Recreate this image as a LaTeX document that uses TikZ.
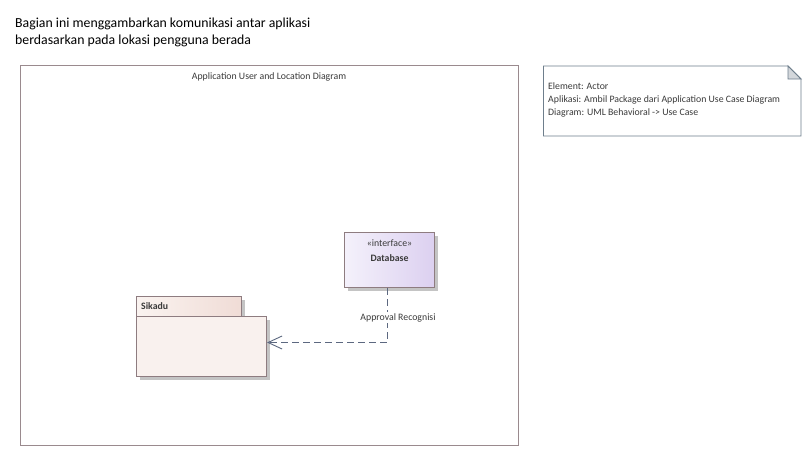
\documentclass[tikz,border=0pt]{standalone}
\usepackage{fontspec}
\setmainfont{Carlito}
\usetikzlibrary{arrows.meta,shadings}
\definecolor{frameborder}{HTML}{9A8A8E}
\definecolor{boxborder}{HTML}{8E7C80}
\definecolor{noteborder}{HTML}{6E7E8C}
\definecolor{connector}{HTML}{5C6880}
\definecolor{labeltext}{HTML}{3A3A3A}
\definecolor{shadowgray}{HTML}{C4C4C4}
\definecolor{dbleft}{HTML}{F4F1FB}
\definecolor{dbright}{HTML}{DCD0F0}
\definecolor{pkgbody}{HTML}{F9F1EE}
\definecolor{tableft}{HTML}{FAF3F0}
\definecolor{tabright}{HTML}{F0DCD6}
\definecolor{foldgray}{HTML}{D3D7DB}
\tikzset{
  smalltext/.style={font=\fontsize{9.8}{12}\selectfont, text=labeltext, inner sep=0pt},
  boldsmall/.style={smalltext, font=\fontsize{9.8}{12}\selectfont\bfseries},
  boxshadow/.style={fill=shadowgray, draw=none},
  depline/.style={draw=connector, line width=0.9pt, dash pattern=on 7pt off 4pt,
     -{Straight Barb[length=14pt,width=13pt,line width=0.9pt]}},
}
\begin{document}
\begin{tikzpicture}[x=1pt,y=-1pt]
\useasboundingbox (0,0) rectangle (811,456);
\fill[white] (0,0) rectangle (811,456);
% title
\node[anchor=base west, inner sep=0pt, font=\fontsize{13.8}{17}\selectfont] (title) at (15,27)
  {Bagian ini menggambarkan komunikasi antar aplikasi};
\node[anchor=base west, inner sep=0pt, font=\fontsize{13.8}{17}\selectfont] (title2) at (15,44)
  {berdasarkan pada lokasi pengguna berada};
% frame
\draw[frameborder, line width=0.9pt] (20.5,65.5) rectangle (518,445) coordinate (frameBR);
\node[smalltext, anchor=base] (framelabel) at (269,79.5) {Application User and Location Diagram};
% note
\draw[noteborder, line width=0.9pt, fill=white] (543.5,66) -- (788,66) -- (801,79) -- (801,136) -- (543.5,136) -- cycle;
\draw[noteborder, line width=0.9pt, fill=foldgray] (788,66) -- (788,79) -- (801,79) -- cycle;
\node[smalltext, anchor=base west] (note1) at (548,89) {Element: Actor};
\node[smalltext, anchor=base west] (note2) at (548,102) {Aplikasi: Ambil Package dari Application Use Case Diagram};
\node[smalltext, anchor=base west] (note3) at (548,115) {Diagram: UML Behavioral -> Use Case};
% database interface
\fill[boxshadow] (348,236) rectangle (438,291);
\shade[left color=dbleft, right color=dbright] (344.5,232.5) rectangle (434.5,287.5);
\draw[boxborder, line width=0.9pt] (344.5,232.5) rectangle (434.5,287.5);
\coordinate (dbbottom) at (387,288);
\node[smalltext, anchor=base] (stereo) at (389.5,246.5) {«interface»};
\node[boldsmall, anchor=base] (dbname) at (389.5,261.5) {Database};
% Sikadu package
\fill[boxshadow] (140,300) rectangle (245,320);
\fill[boxshadow] (140,320) rectangle (270,380);
\shade[left color=tableft, right color=tabright] (136.5,296.5) rectangle (241.5,316.5);
\draw[boxborder, line width=0.9pt] (136.5,296.5) rectangle (241.5,316.5);
\fill[pkgbody] (136.5,316.5) rectangle (266.5,376.5);
\draw[boxborder, line width=0.9pt] (136.5,316.5) rectangle (266.5,376.5);
\node[boldsmall, anchor=base west] (sikadu) at (141,309.5) {Sikadu};
\coordinate (sikaduright) at (267,342.5);
% connector
\draw[depline] (dbbottom) |- (sikaduright);
\node[smalltext, fill=white, inner xsep=1pt, inner ysep=1pt, anchor=base] (deplabel) at (398,320) {Approval Recognisi};
\end{tikzpicture}
\end{document}
